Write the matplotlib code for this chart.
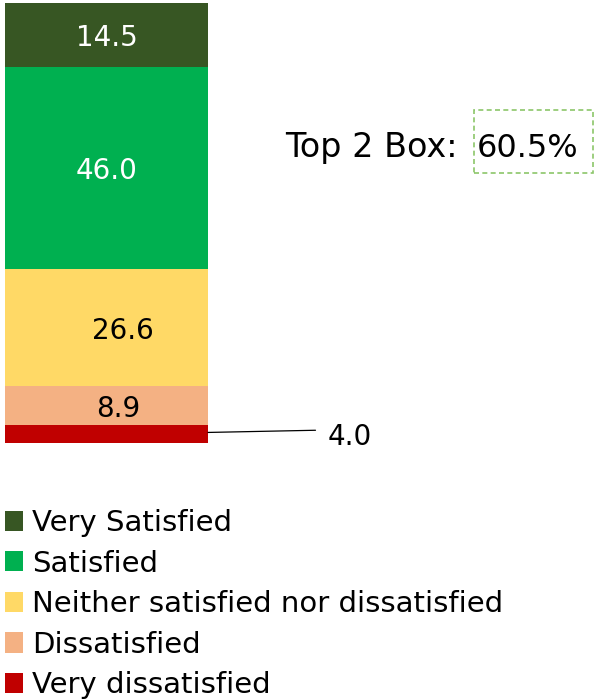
import matplotlib
matplotlib.use("Agg")
import matplotlib.pyplot as plt
from matplotlib.patches import Rectangle

categories = ["Very dissatisfied", "Dissatisfied", "Neither satisfied nor dissatisfied",
              "Satisfied", "Very Satisfied"]
values = [4.0, 8.9, 26.6, 46.0, 14.5]
colors = ["#C00000", "#F4B183", "#FFD966", "#00B050", "#375623"]
label_colors = ["black", "black", "black", "white", "white"]
label_dx = [0, 0.06, 0.08, 0, 0]
top2_value = 60.5

plt.rcParams['font.family'] = ['DejaVu Sans']

W, H = 595, 700
fig = plt.figure(figsize=(W / 100, H / 100), dpi=100)
ax = fig.add_axes([5 / W, 257 / H, 203 / W, 440 / H])
ax.set_xlim(-0.5, 0.5)
ax.set_ylim(0, sum(values))
ax.axis("off")

bottom = 0
handles = []
for cat, v, c, lc, dx in zip(categories, values, colors, label_colors, label_dx):
    b = ax.bar(0, v, width=1.0, bottom=bottom, color=c, label=cat)
    handles.append(b)
    if v >= 5:
        ax.text(dx, bottom + v / 2, f"{v:.1f}", ha="center", va="center_baseline",
                color=lc, fontsize=20)
    else:
        ax.annotate(f"{v:.1f}", xy=(0.5, bottom + v / 2 + 0.4), xycoords="data",
                    xytext=(328 / W, 1 - 434 / H), textcoords="figure fraction",
                    ha="left", va="center_baseline", fontsize=20, color="black",
                    arrowprops=dict(arrowstyle="-", color="black", lw=0.9,
                                    shrinkA=7, shrinkB=0, relpos=(0, 0.75)))
    bottom += v

fig.text(285 / W, 1 - 157 / H, "Top 2 Box:", ha="left", va="baseline", fontsize=24)
fig.text(477 / W, 1 - 157 / H, f"{top2_value:.1f}%", ha="left", va="baseline", fontsize=23)
fig.patches.append(Rectangle((474 / W, 1 - 173 / H), 119 / W, 63 / H,
                             transform=fig.transFigure, fill=False, ec="#8CC66A",
                             ls=(0, (3, 2)), lw=1.2))

leg = fig.legend(handles[::-1], categories[::-1], loc="upper left",
                 bbox_to_anchor=(5 / W, 1 - 509 / H), frameon=False, fontsize=21,
                 handlelength=0.62, handleheight=0.69, handletextpad=0.31,
                 labelspacing=0.43, borderaxespad=0, borderpad=0)

fig.savefig("out.png", dpi=100)
